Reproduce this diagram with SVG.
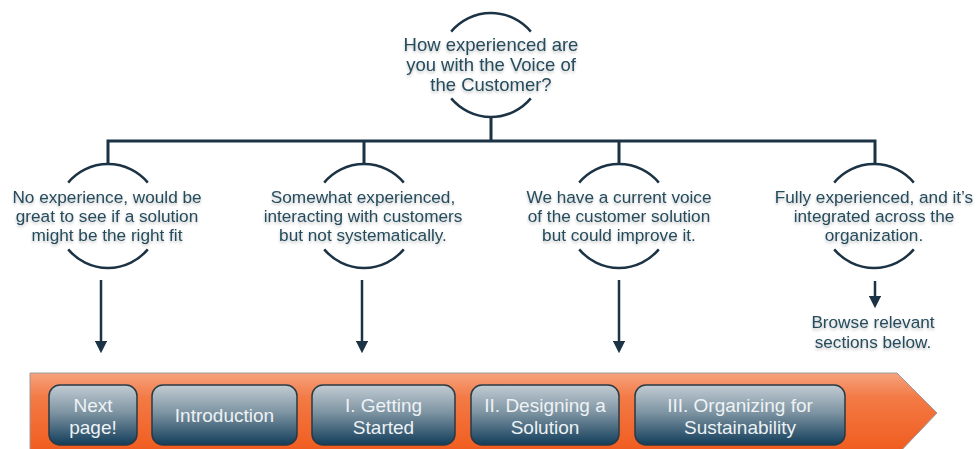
<svg xmlns="http://www.w3.org/2000/svg" width="980" height="449" viewBox="0 0 980 449">
<defs>
<style>
.t{font-family:"Liberation Sans",Arial,sans-serif;font-size:17.2px;fill:#264c5c;text-anchor:middle;filter:url(#sh)}
.tq{font-size:18.5px}
.b{font-family:"Liberation Sans",Arial,sans-serif;font-size:19px;fill:#eef2f5;text-anchor:middle}
.arc{fill:none;stroke:#1b3344;stroke-width:2.5}
.ln{fill:none;stroke:#1b3344;stroke-width:3}
.ar{fill:none;stroke:#1b3344;stroke-width:2.5}
.btn{fill:url(#bg);stroke:#2a3a44;stroke-width:1.5}
</style>
<filter id="sh" x="-10%" y="-30%" width="120%" height="160%">
<feGaussianBlur in="SourceAlpha" stdDeviation="1.5"/>
<feOffset dx="0" dy="2" result="o"/>
<feComponentTransfer><feFuncA type="linear" slope="0.25"/></feComponentTransfer>
<feMerge><feMergeNode/><feMergeNode in="SourceGraphic"/></feMerge>
</filter>
<linearGradient id="og" x1="0" y1="0" x2="0" y2="1">
<stop offset="0" stop-color="#f6a27e"/>
<stop offset="0.3" stop-color="#f37a45"/>
<stop offset="1" stop-color="#f05a1c"/>
</linearGradient>
<linearGradient id="bg" x1="0" y1="0" x2="0" y2="1">
<stop offset="0" stop-color="#c2ccd3"/>
<stop offset="0.45" stop-color="#7f95a3"/>
<stop offset="1" stop-color="#123d5a"/>
</linearGradient>
<marker id="ah" viewBox="0 0 10 10" refX="5" refY="5" markerWidth="5" markerHeight="5" orient="auto" markerUnits="strokeWidth">
<path d="M0,0 L10,5 L0,10 z" fill="#1b3344"/>
</marker>
</defs>
<rect width="980" height="449" fill="#ffffff"/>

<g id="connectors">
<path class="ln" d="M491,117 V141 M108,163 V141 H875 V163 M364,141 V163 M619,141 V163"/>
<line class="ar" x1="101" y1="280" x2="101" y2="347" marker-end="url(#ah)"/>
<line class="ar" x1="362" y1="280" x2="362" y2="347" marker-end="url(#ah)"/>
<line class="ar" x1="619" y1="280" x2="619" y2="347" marker-end="url(#ah)"/>
<line class="ar" x1="875" y1="281" x2="875" y2="302" marker-end="url(#ah)"/>
</g>

<g id="q">
<path class="arc" d="M451.2,31.6 A52,52 0 0 1 530.8,31.6"/>
<path class="arc" d="M451.2,98.4 A52,52 0 0 0 530.8,98.4"/>
<text class="t tq" x="491" y="51">How experienced are</text>
<text class="t tq" x="491" y="71">you with the Voice of</text>
<text class="t tq" x="491" y="91">the Customer?</text>
</g>

<g id="n1">
<path class="arc" d="M68.2,182.6 A52,52 0 0 1 147.8,182.6"/>
<path class="arc" d="M68.2,249.4 A52,52 0 0 0 147.8,249.4"/>
<text class="t" x="107" y="203">No experience, would be</text>
<text class="t" x="107" y="222">great to see if a solution</text>
<text class="t" x="107" y="241">might be the right fit</text>
</g>

<g id="n2">
<path class="arc" d="M324.2,182.6 A52,52 0 0 1 403.8,182.6"/>
<path class="arc" d="M324.2,249.4 A52,52 0 0 0 403.8,249.4"/>
<text class="t" x="363" y="203">Somewhat experienced,</text>
<text class="t" x="363" y="222">interacting with customers</text>
<text class="t" x="363" y="241">but not systematically.</text>
</g>

<g id="n3">
<path class="arc" d="M579.2,182.6 A52,52 0 0 1 658.8,182.6"/>
<path class="arc" d="M579.2,249.4 A52,52 0 0 0 658.8,249.4"/>
<text class="t" x="619" y="203">We have a current voice</text>
<text class="t" x="619" y="222">of the customer solution</text>
<text class="t" x="619" y="241">but could improve it.</text>
</g>

<g id="n4">
<path class="arc" d="M834.2,182.6 A52,52 0 0 1 913.8,182.6"/>
<path class="arc" d="M834.2,249.4 A52,52 0 0 0 913.8,249.4"/>
<text class="t" x="874" y="203">Fully experienced, and it’s</text>
<text class="t" x="874" y="222">integrated across the</text>
<text class="t" x="874" y="241">organization.</text>
</g>

<g id="browse">
<text class="t" x="873" y="328">Browse relevant</text>
<text class="t" x="873" y="348">sections below.</text>
</g>

<g id="banner">
<path d="M30,373 H897 L937,413 L897,455 H30 Z" fill="url(#og)" stroke="#9a9a9a" stroke-width="1"/>
</g>

<g id="b1">
<rect class="btn" x="49" y="385" width="88" height="60" rx="11"/>
<text class="b" x="93" y="412">Next</text>
<text class="b" x="93" y="434">page!</text>
</g>
<g id="b2">
<rect class="btn" x="152" y="385" width="145" height="60" rx="11"/>
<text class="b" x="224.5" y="422">Introduction</text>
</g>
<g id="b3">
<rect class="btn" x="312" y="385" width="143" height="60" rx="11"/>
<text class="b" x="383.5" y="412">I. Getting</text>
<text class="b" x="383.5" y="434">Started</text>
</g>
<g id="b4">
<rect class="btn" x="471" y="385" width="148" height="60" rx="11"/>
<text class="b" x="545" y="412">II. Designing a</text>
<text class="b" x="545" y="434">Solution</text>
</g>
<g id="b5">
<rect class="btn" x="635" y="385" width="210" height="60" rx="11"/>
<text class="b" x="740" y="412">III. Organizing for</text>
<text class="b" x="740" y="434">Sustainability</text>
</g>
</svg>
